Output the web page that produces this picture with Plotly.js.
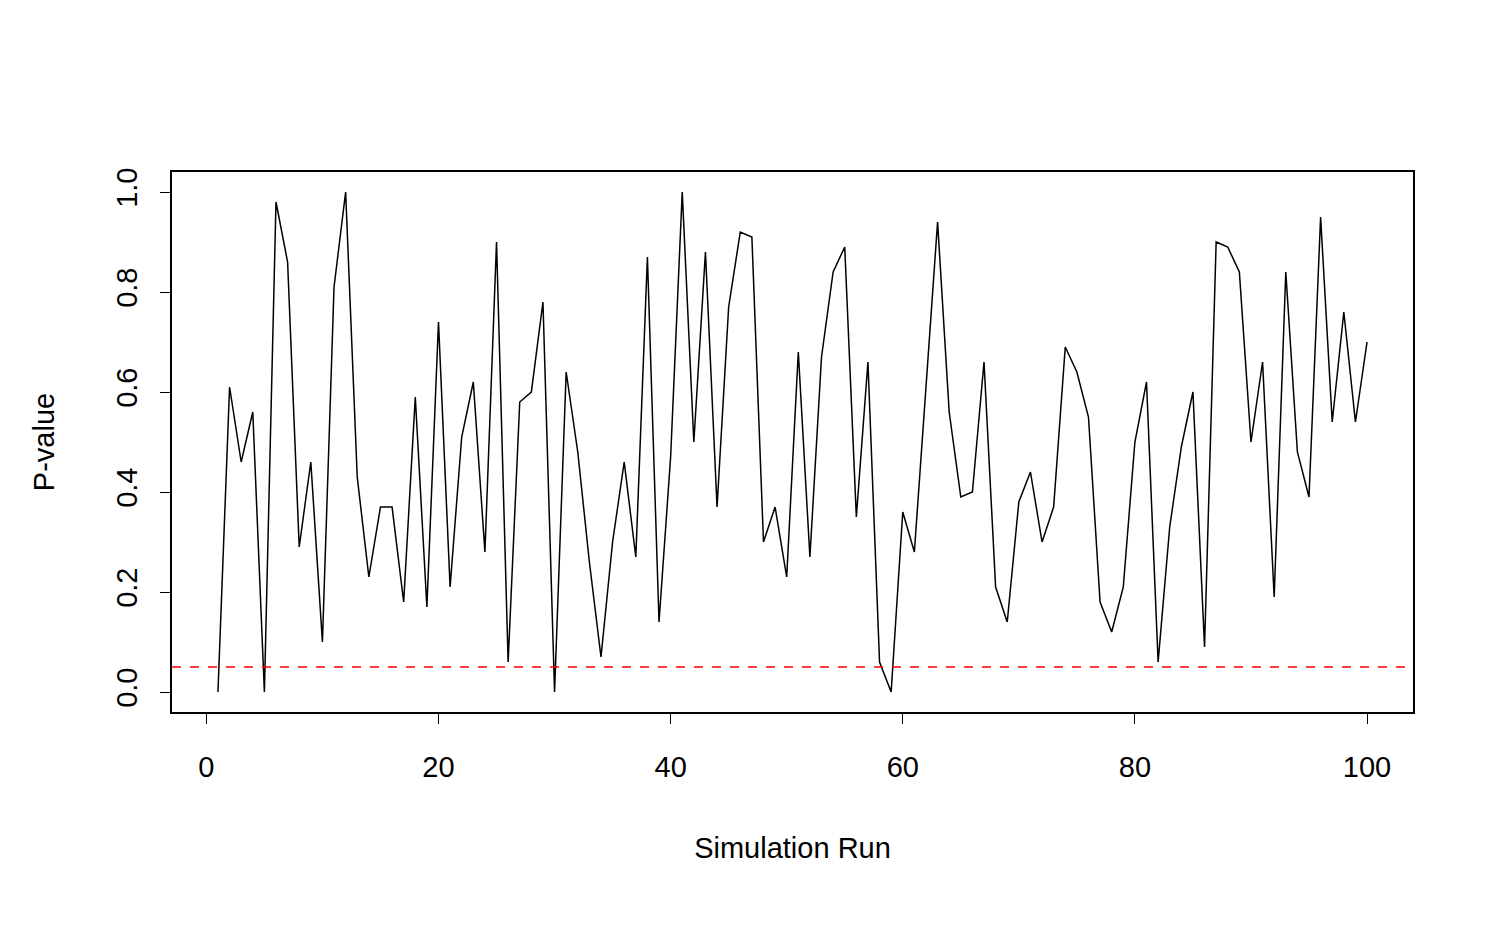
<!DOCTYPE html>
<html>
<head>
<meta charset="utf-8">
<script src="https://cdn.plot.ly/plotly-3.0.1.min.js"></script>
<style>body{margin:0;background:#fff}</style>
</head>
<body>
<div id="plot" style="width:1502px;height:928px"></div>
<script>
var pvalues = [0.0, 0.61, 0.46, 0.56, 0.0, 0.98, 0.86, 0.29, 0.46, 0.10,
  0.81, 1.0, 0.43, 0.23, 0.37, 0.37, 0.18, 0.59, 0.17, 0.74,
  0.21, 0.51, 0.62, 0.28, 0.90, 0.06, 0.58, 0.60, 0.78, 0.0,
  0.64, 0.48, 0.26, 0.07, 0.30, 0.46, 0.27, 0.87, 0.14, 0.47,
  1.0, 0.50, 0.88, 0.37, 0.77, 0.92, 0.91, 0.30, 0.37, 0.23,
  0.68, 0.27, 0.67, 0.84, 0.89, 0.35, 0.66, 0.06, 0.0, 0.36,
  0.28, 0.62, 0.94, 0.56, 0.39, 0.40, 0.66, 0.21, 0.14, 0.38,
  0.44, 0.30, 0.37, 0.69, 0.64, 0.55, 0.18, 0.12, 0.21, 0.50,
  0.62, 0.06, 0.33, 0.49, 0.60, 0.09, 0.90, 0.89, 0.84, 0.50,
  0.66, 0.19, 0.84, 0.48, 0.39, 0.95, 0.54, 0.76, 0.54, 0.70];
var runs = pvalues.map(function(v, i){ return i + 1; });
var alpha = 0.05;

var font = {family: 'Liberation Sans, Arial, sans-serif', size: 29, color: '#000'};

var trace = {x: runs, y: pvalues, type: 'scatter', mode: 'lines',
  line: {color: '#000', width: 1.5}, hoverinfo: 'x+y'};

var layout = {
  width: 1502, height: 928,
  margin: {l: 172, r: 89, t: 172, b: 216},
  paper_bgcolor: '#fff', plot_bgcolor: '#fff',
  showlegend: false,
  font: font,
  xaxis: {range: [-2.96, 103.96], tickvals: [0, 20, 40, 60, 80, 100],
    ticks: 'outside', ticklen: 10, tickwidth: 1.2, tickcolor: '#000',
    ticklabelstandoff: 18,
    showline: true, mirror: true, linecolor: '#000', linewidth: 1.5,
    showgrid: false, zeroline: false, tickfont: font,
    title: {text: 'Simulation Run', font: font, standoff: 56}},
  yaxis: {range: [-0.04, 1.04], tickvals: [0, 0.2, 0.4, 0.6, 0.8, 1.0],
    ticktext: ['0.0', '0.2', '0.4', '0.6', '0.8', '1.0'],
    tickangle: -90, ticklabelstandoff: 12,
    ticks: 'outside', ticklen: 10, tickwidth: 1.2, tickcolor: '#000',
    showline: true, mirror: true, linecolor: '#000', linewidth: 1.5,
    showgrid: false, zeroline: false, tickfont: font,
    title: {text: 'P-value', font: font, standoff: 48}},
  shapes: [{type: 'line', xref: 'paper', x0: 0, x1: 1, yref: 'y', y0: alpha, y1: alpha,
    line: {color: '#ff0000', width: 1.5, dash: 'dash'}}]
};

Plotly.newPlot('plot', [trace], layout, {displayModeBar: false});
</script>
</body>
</html>
